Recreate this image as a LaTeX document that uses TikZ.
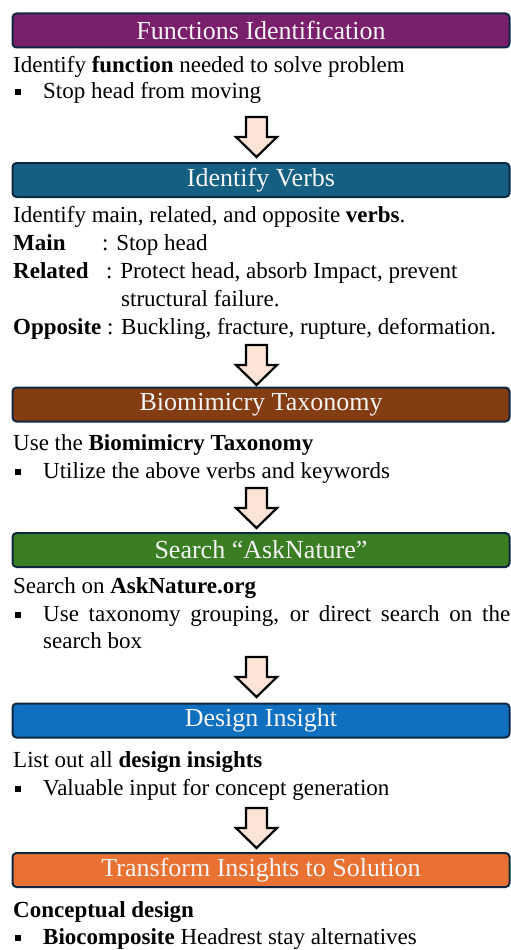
\documentclass[tikz,border=0pt]{standalone}
\usepackage{fontspec}
\setmainfont{Liberation Serif}
\definecolor{bordc}{HTML}{0E2841}
\definecolor{cpurple}{HTML}{7A1F6C}
\definecolor{cteal}{HTML}{156082}
\definecolor{cbrown}{HTML}{843C12}
\definecolor{cgreen}{HTML}{3A7D22}
\definecolor{cblue}{HTML}{0F70C0}
\definecolor{corange}{HTML}{E97132}
\definecolor{cpeach}{HTML}{FBE3D6}
\definecolor{ctitle}{HTML}{F4F4F4}
\tikzset{
  header/.style={draw=bordc, line width=2pt, rounded corners=4pt, minimum width=497pt,
    minimum height=34pt, inner sep=0pt, text=ctitle, font=\fontsize{26}{30}\selectfont},
  body/.style={anchor=base west, inner sep=0pt, font=\fontsize{23}{28}\selectfont},
  bulletsq/.style={fill=black, minimum width=6pt, minimum height=6pt, inner sep=0pt},
  pics/blockarrow/.style={code={
    \draw[fill=cpeach, draw=black, line width=2.2pt, line join=miter]
      (-10.5,0) -- (10.5,0) -- (10.5,20) -- (20.5,20) -- (0,40) -- (-20.5,20) -- (-10.5,20) -- cycle;
  }}
}
\begin{document}
\begin{tikzpicture}[x=1pt, y=-1pt]
\useasboundingbox (0,0) rectangle (511,950);

% Section 1
\node[header, fill=cpurple] (h1) at (261,30.5) {Functions Identification};
\node[body] (t1a) at (13,72.5) {Identify \textbf{function} needed to solve problem};
\node[bulletsq] (b1) at (18,91.5) {};
\node[body] (t1b) at (43,98.5) {Stop head from moving};
\pic at (256.5,117) {blockarrow};

% Section 2
\node[header, fill=cteal] (h2) at (261,180) {Identify Verbs};
\node[body] (t2a) at (13,222.5) {Identify main, related, and opposite \textbf{verbs}.};
\node[body] (t2b) at (13,250.5) {\textbf{Main}};
\node[body] (t2bc) at (102,250.5) {: Stop head};
\node[body] (t2c) at (13,278.5) {\textbf{Related}};
\node[body] (t2cc) at (106,278.5) {: Protect head, absorb Impact, prevent};
\node[body] (t2d) at (121,306.5) {structural failure.};
\node[body] (t2e) at (13,334.5) {\textbf{Opposite} : Buckling, fracture, rupture, deformation.};
\pic at (256.5,345) {blockarrow};

% Section 3
\node[header, fill=cbrown] (h3) at (261,404.5) {Biomimicry Taxonomy};
\node[body] (t3a) at (13,450) {Use the \textbf{Biomimicry Taxonomy}};
\node[bulletsq] (b3) at (18,472) {};
\node[body] (t3b) at (43,478) {Utilize the above verbs and keywords};
\pic at (256.5,488) {blockarrow};

% Section 4
\node[header, fill=cgreen] (h4) at (261,550) {Search “AskNature”};
\node[body] (t4a) at (13,593) {Search on \textbf{AskNature.org}};
\node[bulletsq] (b4) at (18,615) {};
\node[body] (t4b) at (43,621) {\makebox[467pt][s]{Use taxonomy grouping, or direct search on the}};
\node[body] (t4c) at (43,648.5) {search box};
\pic at (256.5,657) {blockarrow};

% Section 5
\node[header, fill=cblue] (h5) at (261,720.5) {Design Insight};
\node[body] (t5a) at (13,767) {List out all \textbf{design insights}};
\node[bulletsq] (b5) at (18,789) {};
\node[body] (t5b) at (43,795) {Valuable input for concept generation};
\pic at (256.5,808) {blockarrow};

% Section 6
\node[header, fill=corange] (h6) at (261,870) {Transform Insights to Solution};
\node[body] (t6a) at (13,917) {\textbf{Conceptual design}};
\node[bulletsq] (b6) at (18,938) {};
\node[body] (t6b) at (43,944) {\textbf{Biocomposite} Headrest stay alternatives};
\end{tikzpicture}
\end{document}
